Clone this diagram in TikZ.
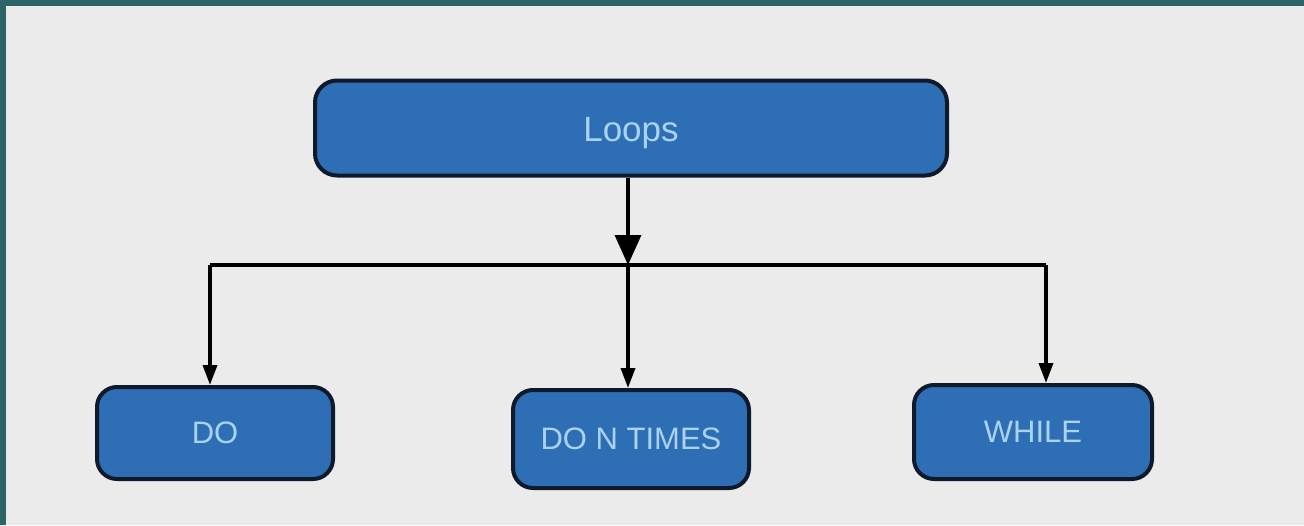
\documentclass[tikz,border=0pt]{standalone}
\usepackage{fontspec}
\setmainfont{Liberation Sans}
\usetikzlibrary{arrows.meta}
\definecolor{frameteal}{HTML}{2E6466}
\definecolor{bgcol}{HTML}{EBEBEB}
\definecolor{boxfill}{HTML}{2E6EB5}
\definecolor{boxline}{HTML}{0E1A2C}
\definecolor{boxtext}{HTML}{A9D3F3}
\tikzset{
  box/.style={draw=boxline, line width=4pt, fill=boxfill, rounded corners=20pt,
    text=boxtext, inner sep=0pt, font=\fontsize{31}{36}\selectfont},
  conn/.style={draw=black, line width=3.5pt},
  bigarrow/.style={conn, -{Triangle[width=26pt,length=30pt]}},
  smallarrow/.style={conn, -{Triangle[width=14pt,length=20pt]}}
}
\begin{document}
\begin{tikzpicture}[x=1pt,y=-1pt]
\useasboundingbox (0,0) rectangle (1304,525);
\fill[frameteal] (0,0) rectangle (1304,525);
\fill[bgcol] (6,6) rectangle (1304,525);
\node[box, minimum width=632pt, minimum height=95pt, rounded corners=22pt,
  text depth=0pt, font=\fontsize{35}{40}\selectfont] (loops) at (631,128) {\raisebox{-3pt}{Loops}};
\node[box, minimum width=236pt, minimum height=92pt] (do) at (215,433) {DO};
\node[box, minimum width=236pt, minimum height=98pt] (dont) at (631,439) {DO N TIMES};
\node[box, minimum width=238pt, minimum height=94pt] (while) at (1033,432) {WHILE};
\coordinate (hub) at (628,265);
\coordinate (jl) at (210,265);
\coordinate (jr) at (1046,265);
\draw[bigarrow] (loops.south -| hub) -- (hub);
\draw[conn] (jl) -- (jr);
\draw[smallarrow] (jl) -- (do.north -| jl);
\draw[smallarrow] (hub) -- (dont.north -| hub);
\draw[smallarrow] (jr) -- (while.north -| jr);
\end{tikzpicture}
\end{document}
